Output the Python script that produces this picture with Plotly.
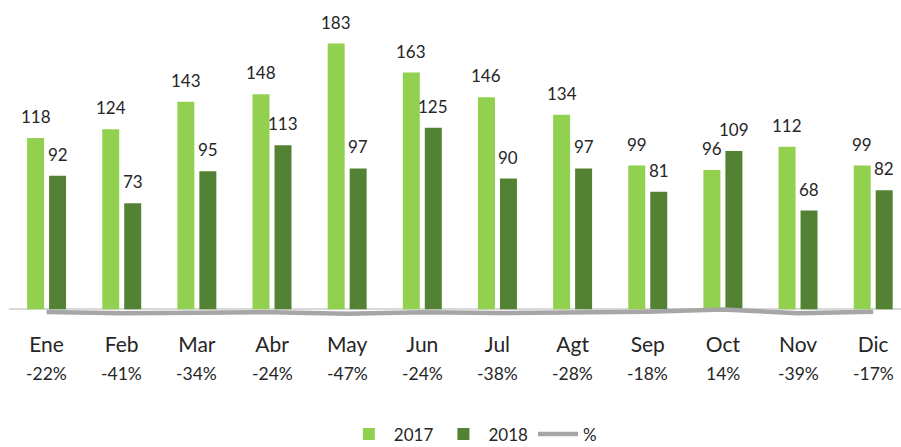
import plotly.graph_objects as go

months = ["Ene", "Feb", "Mar", "Abr", "May", "Jun", "Jul", "Agt", "Sep", "Oct", "Nov", "Dic"]
v2017 = [118, 124, 143, 148, 183, 163, 146, 134, 99, 96, 112, 99]
v2018 = [92, 73, 95, 113, 97, 125, 90, 97, 81, 109, 68, 82]
pct = [-22, -41, -34, -24, -47, -24, -38, -28, -18, 14, -39, -17]

C17 = "#92D050"
C18 = "#548235"
CLINE = "#A6A6A6"
TXT = "#262626"
FONT = "Lato"

x = list(range(len(months)))

fig = go.Figure()
fig.add_trace(go.Bar(x=x, y=v2017, name="2017", marker=dict(color=C17, line=dict(width=0))))
fig.add_trace(go.Bar(x=x, y=v2018, name="2018", marker=dict(color=C18, line=dict(width=0))))
fig.add_trace(go.Scatter(x=x, y=[p / 100 for p in pct], name="%", mode="lines",
                         line=dict(color=CLINE, width=4.5), yaxis="y2"))

ann = []
for i in x:
    ann.append(dict(x=i, y=v2017[i], xref="x", yref="y", text=str(v2017[i]), showarrow=False,
                    xshift=-11, yshift=9, yanchor="bottom", font=dict(size=17, color=TXT, family=FONT)))
    ann.append(dict(x=i, y=v2018[i], xref="x", yref="y", text=str(v2018[i]), showarrow=False,
                    xshift=11, yshift=9, yanchor="bottom", font=dict(size=17, color=TXT, family=FONT)))
    ann.append(dict(x=i, y=-0.1635, xref="x", yref="paper", text=f"{pct[i]}%", showarrow=False,
                    yanchor="middle", font=dict(size=17.5, color=TXT, family=FONT)))

fig.update_layout(
    width=901, height=447,
    margin=dict(l=9, r=0, t=10, b=125),
    paper_bgcolor="white", plot_bgcolor="white",
    font=dict(family=FONT, color=TXT),
    barmode="group", bargap=0.415, bargroupgap=0.227,
    showlegend=True,
    legend=dict(orientation="h", xref="paper", x=0.52, xanchor="center",
                yref="container", y=0.028, yanchor="middle",
                font=dict(size=17, color=TXT, family=FONT), traceorder="normal",
                itemwidth=40),
    xaxis=dict(tickvals=x, ticktext=months, range=[-0.5, 11.37], showgrid=False,
               showline=False, zeroline=False, ticks="", ticklabelstandoff=8,
               tickfont=dict(size=21, color=TXT, family=FONT)),
    yaxis=dict(range=[-8.75, 206.1], visible=True, showgrid=False, showticklabels=False,
               zeroline=True, zerolinecolor="#D9D9D9", zerolinewidth=1.5, showline=False, ticks=""),
    yaxis2=dict(range=[-1.69, 44.19], overlaying="y", side="right", visible=False, showgrid=False,
                zeroline=False),
    annotations=ann,
)

fig.write_html("out.html", config={"displayModeBar": False},
               post_script="document.body.style.margin='0';")
